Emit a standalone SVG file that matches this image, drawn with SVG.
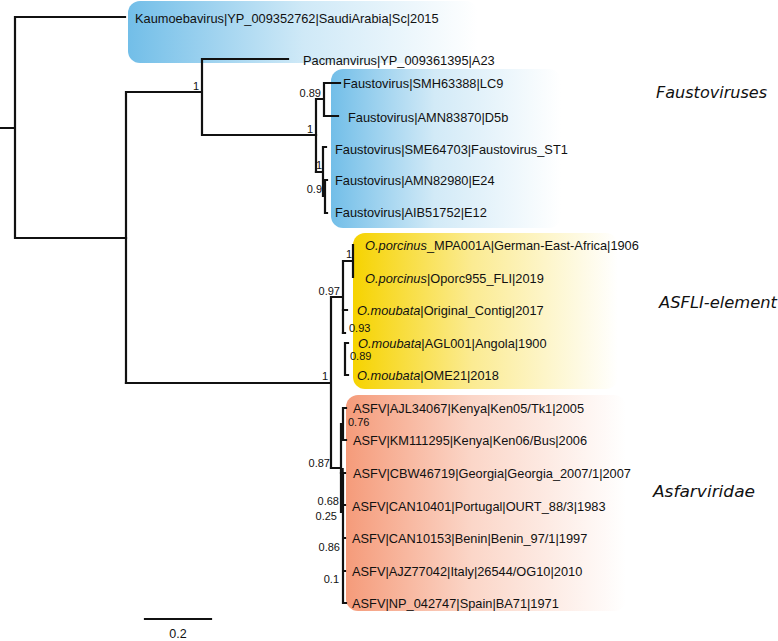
<svg xmlns="http://www.w3.org/2000/svg" width="778" height="641" viewBox="0 0 778 641">
<defs>
<linearGradient id="gBlue1" x1="0" y1="0" x2="1" y2="0">
<stop offset="0" stop-color="#72bee8"/><stop offset="0.5" stop-color="#cfe9f7"/><stop offset="1" stop-color="#ffffff"/>
</linearGradient>
<linearGradient id="gBlue2" x1="0" y1="0" x2="1" y2="0">
<stop offset="0" stop-color="#72bee8"/><stop offset="0.45" stop-color="#d2eaf7"/><stop offset="1" stop-color="#ffffff"/>
</linearGradient>
<linearGradient id="gYellow" x1="0" y1="0" x2="1" y2="0">
<stop offset="0" stop-color="#f6d300"/><stop offset="0.45" stop-color="#fbeb92"/><stop offset="1" stop-color="#ffffff"/>
</linearGradient>
<linearGradient id="gRed" x1="0" y1="0" x2="1" y2="0">
<stop offset="0" stop-color="#f59b7a"/><stop offset="0.45" stop-color="#fbd6c8"/><stop offset="1" stop-color="#ffffff"/>
</linearGradient>
<style>
.br{stroke:#111;stroke-width:2.2;fill:none;stroke-linecap:square}
.tip{font-family:"Liberation Sans",Arial,sans-serif;font-size:12.8px;fill:#111}
.sup{font-family:"Liberation Sans",Arial,sans-serif;font-size:11px;fill:#111}
.clade{font-family:"DejaVu Sans",Verdana,sans-serif;font-size:16px;font-style:italic;fill:#111}
.it{font-style:italic}
</style>
</defs>
<rect width="778" height="641" fill="#ffffff"/>

<g id="clade-boxes">
<rect x="128" y="1" width="350" height="62" rx="12" fill="url(#gBlue1)"/>
<rect x="331" y="69" width="230" height="159" rx="12" fill="url(#gBlue2)"/>
<rect x="353" y="233" width="265" height="156" rx="12" fill="url(#gYellow)"/>
<rect x="346" y="395" width="280" height="216" rx="12" fill="url(#gRed)"/>
</g>

<g id="connectors">
<path class="br" d="M0,128 H15 M15,17 V238 M15,17 H125 M15,238 H126"/>
<path class="br" d="M126,92 V383 M126,92 H202 M202,59 V135 M202,59 H288 M202,135 H316"/>
<path class="br" d="M316,99 V172 M316,99 H324 M324,83 V116 M324,83 H340 M324,116 H338"/>
<path class="br" d="M316,172 H323 M323,147 V196 M323,147 H326 M323,196 H325 M325,180 V213 M325,180 H327 M325,213 H327"/>
<path class="br" d="M126,383 H331 M331,297 V468 M331,297 H343 M343,261 V333 M343,261 H353 M353,245 V277"/>
<path class="br" d="M343,310 H347 M343,333 H345 M345,343 V375 M345,343 H348 M345,375 H348"/>
<path class="br" d="M331,468 H341 M341,424 V512 M341,424 H343 M343,408 V440 M343,408 H346 M343,440 H346"/>
<path class="br" d="M341,473 H345 M343,473 V603 M343,505 H345 M343,538 H345 M343,571 H345 M343,603 H346"/>
<path d="M342,468 V512" stroke="#111" stroke-width="3.5" fill="none"/>
<path class="br" d="M145,619 H211"/>
</g>

<g id="tips">
<g id="n-kaumoeba"><text class="tip" x="135" y="23">Kaumoebavirus|YP_009352762|SaudiArabia|Sc|2015</text></g>
<g id="n-pacman"><text class="tip" x="303" y="65">Pacmanvirus|YP_009361395|A23</text></g>
<g id="n-f-lc9"><text class="tip" x="343" y="88">Faustovirus|SMH63388|LC9</text></g>
<g id="n-f-d5b"><text class="tip" x="348" y="121.5">Faustovirus|AMN83870|D5b</text></g>
<g id="n-f-st1"><text class="tip" x="335" y="153.5">Faustovirus|SME64703|Faustovirus_ST1</text></g>
<g id="n-f-e24"><text class="tip" x="335" y="185">Faustovirus|AMN82980|E24</text></g>
<g id="n-f-e12"><text class="tip" x="335" y="217">Faustovirus|AIB51752|E12</text></g>
<g id="n-op-mpa"><text class="tip" x="365" y="250"><tspan class="it">O.porcinus</tspan>_MPA001A|German-East-Africa|1906</text></g>
<g id="n-op-955"><text class="tip" x="365" y="283"><tspan class="it">O.porcinus</tspan>|Oporc955_FLI|2019</text></g>
<g id="n-om-orig"><text class="tip" x="357" y="315"><tspan class="it">O.moubata</tspan>|Original_Contig|2017</text></g>
<g id="n-om-agl"><text class="tip" x="358" y="347.5"><tspan class="it">O.moubata</tspan>|AGL001|Angola|1900</text></g>
<g id="n-om-ome"><text class="tip" x="357" y="380"><tspan class="it">O.moubata</tspan>|OME21|2018</text></g>
<g id="n-asfv-ajl"><text class="tip" x="353" y="413">ASFV|AJL34067|Kenya|Ken05/Tk1|2005</text></g>
<g id="n-asfv-km"><text class="tip" x="353" y="445">ASFV|KM111295|Kenya|Ken06/Bus|2006</text></g>
<g id="n-asfv-cbw"><text class="tip" x="353" y="478">ASFV|CBW46719|Georgia|Georgia_2007/1|2007</text></g>
<g id="n-asfv-can1"><text class="tip" x="352" y="510.5">ASFV|CAN10401|Portugal|OURT_88/3|1983</text></g>
<g id="n-asfv-can2"><text class="tip" x="352" y="543">ASFV|CAN10153|Benin|Benin_97/1|1997</text></g>
<g id="n-asfv-ajz"><text class="tip" x="352" y="576">ASFV|AJZ77042|Italy|26544/OG10|2010</text></g>
<g id="n-asfv-np"><text class="tip" x="352" y="608">ASFV|NP_042747|Spain|BA71|1971</text></g>
</g>

<g id="supports">
<text class="sup" x="199" y="90" text-anchor="end">1</text>
<text class="sup" x="321" y="97" text-anchor="end">0.89</text>
<text class="sup" x="313" y="133" text-anchor="end">1</text>
<text class="sup" x="322" y="169" text-anchor="end">1</text>
<text class="sup" x="322" y="193" text-anchor="end">0.9</text>
<text class="sup" x="352" y="258" text-anchor="end">1</text>
<text class="sup" x="340" y="295" text-anchor="end">0.97</text>
<text class="sup" x="349" y="332">0.93</text>
<text class="sup" x="350" y="360">0.89</text>
<text class="sup" x="328" y="380" text-anchor="end">1</text>
<text class="sup" x="348" y="426">0.76</text>
<text class="sup" x="330" y="467" text-anchor="end">0.87</text>
<text class="sup" x="339" y="505" text-anchor="end">0.68</text>
<text class="sup" x="337" y="520" text-anchor="end">0.25</text>
<text class="sup" x="340" y="551" text-anchor="end">0.86</text>
<text class="sup" x="339" y="583" text-anchor="end">0.1</text>
</g>

<g id="clade-labels">
<text class="clade" x="656" y="98" textLength="111" lengthAdjust="spacingAndGlyphs">Faustoviruses</text>
<text class="clade" x="659" y="308" textLength="118" lengthAdjust="spacingAndGlyphs">ASFLI-element</text>
<text class="clade" x="653" y="497" textLength="102" lengthAdjust="spacingAndGlyphs">Asfarviridae</text>
</g>

<g id="scale">
<text class="tip" x="178" y="638" text-anchor="middle" style="font-size:12.5px">0.2</text>
</g>
</svg>
